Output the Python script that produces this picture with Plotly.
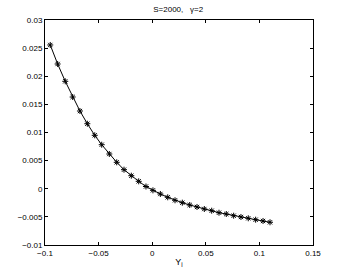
import plotly.graph_objects as go

x_vals = [-0.0951, -0.0882, -0.0811, -0.0742, -0.0674, -0.0605, -0.0536, -0.0471,
          -0.0400, -0.0331, -0.0263, -0.0195, -0.0126, -0.0058, 0.0007, 0.0076,
          0.0145, 0.0213, 0.0281, 0.0350, 0.0418, 0.0486, 0.0555, 0.0623,
          0.0691, 0.0760, 0.0828, 0.0896, 0.0965, 0.1034, 0.1099]
y_vals = [0.02556, 0.02218, 0.0191, 0.01631, 0.01382, 0.01156, 0.0095, 0.00783,
          0.00618, 0.0047, 0.00339, 0.00232, 0.00132, 0.0004, -0.00028, -0.00093,
          -0.00152, -0.00205, -0.00248, -0.00289, -0.00324, -0.0036, -0.0039, -0.00426,
          -0.00449, -0.00479, -0.00502, -0.00525, -0.0055, -0.00573, -0.00596]

x_ticks = [-0.1, -0.05, 0, 0.05, 0.1, 0.15]
x_tick_labels = ["\u22120.1", "\u22120.05", "0", "0.05", "0.1", "0.15"]
y_ticks = [-0.01, -0.005, 0, 0.005, 0.01, 0.015, 0.02, 0.025, 0.03]
y_tick_labels = ["\u22120.01", "\u22120.005", "0", "0.005", "0.01", "0.015", "0.02", "0.025", "0.03"]

title_text = "S=2000,\u00a0\u00a0 \u03b3=2"
x_label = "Y<sub>i</sub>"

FONT = "Liberation Sans, Arial, sans-serif"

fig = go.Figure()
fig.add_trace(go.Scatter(
    x=x_vals, y=y_vals, mode="lines+markers",
    line=dict(color="black", width=1),
    marker=dict(symbol="asterisk-open", size=5, color="black",
                line=dict(color="black", width=1)),
    showlegend=False,
))

axis_common = dict(
    showgrid=False, zeroline=False, showline=True, linecolor="black", linewidth=1,
    mirror="ticks", ticks="inside", ticklen=3, tickcolor="black",
    tickfont=dict(family=FONT, size=8, color="black"),
)

fig.update_layout(
    width=346, height=277,
    margin=dict(l=45, r=33, t=20, b=32),
    paper_bgcolor="white", plot_bgcolor="white",
    title=dict(text=title_text, x=0.515, xanchor="center", y=0.967, yanchor="middle",
               font=dict(family=FONT, size=8, color="black")),
    xaxis=dict(range=[-0.1, 0.15], tickvals=x_ticks, ticktext=x_tick_labels,
               title=dict(text=x_label, standoff=2,
                          font=dict(family=FONT, size=9, color="black")),
               **axis_common),
    yaxis=dict(range=[-0.01, 0.03], tickvals=y_ticks, ticktext=y_tick_labels,
               **axis_common),
)

fig.write_html("out.html", config={"displayModeBar": False, "staticPlot": True},
               post_script="document.body.style.margin='0';")
